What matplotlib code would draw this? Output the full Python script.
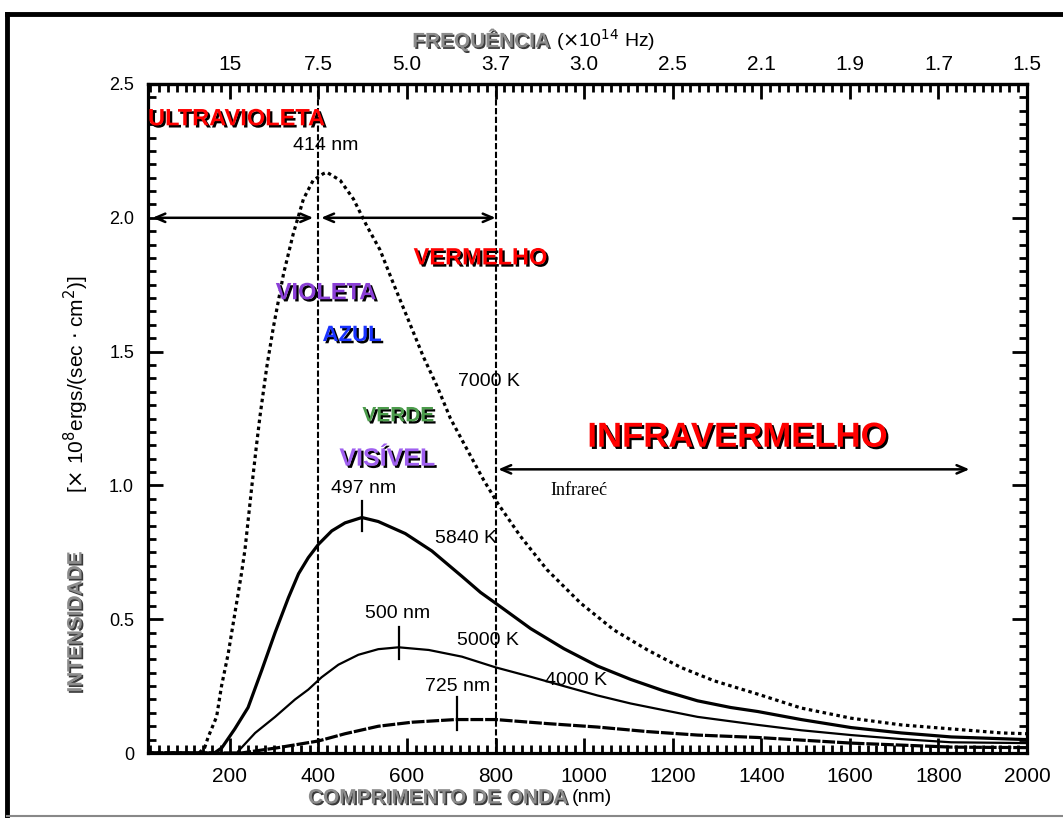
import matplotlib
matplotlib.use("Agg")
import matplotlib.pyplot as plt
import matplotlib.patheffects as pe
from matplotlib.lines import Line2D
from matplotlib.ticker import MultipleLocator

# curves (wavelength nm, intensity x10^8 ergs/(sec cm^2))
wave_7000 = [20, 130, 143, 151, 170, 181, 196, 211, 226, 234, 249, 260, 268, 283, 298, 321,
             343, 366, 388, 411, 419, 449, 479, 509, 539, 569, 600, 637, 668, 698, 750, 773,
             804, 856, 916, 992, 1067, 1143, 1218, 1293, 1392, 1490, 1603, 1716, 1829, 1942, 2000]
int_7000 = [0, 0, 0.02, 0.06, 0.136, 0.25, 0.37, 0.52, 0.67, 0.76, 0.99, 1.15, 1.26, 1.44, 1.59, 1.79,
            1.94, 2.07, 2.14, 2.165, 2.17, 2.14, 2.07, 1.97, 1.88, 1.755, 1.63, 1.48, 1.37, 1.25, 1.09, 1.02,
            0.935, 0.81, 0.685, 0.56, 0.46, 0.385, 0.32, 0.27, 0.22, 0.168, 0.13, 0.105, 0.09, 0.075, 0.072]

wave_5840 = [20, 165, 182, 211, 241, 272, 302, 332, 355, 377, 400, 430, 460, 498, 535, 596, 656,
             724, 766, 804, 879, 954, 1030, 1105, 1180, 1256, 1331, 1392, 1490, 1603, 1716, 1829, 2000]
int_5840 = [0, 0, 0.02, 0.09, 0.17, 0.31, 0.45, 0.58, 0.67, 0.73, 0.78, 0.83, 0.86, 0.88, 0.865, 0.82, 0.755,
            0.66, 0.60, 0.555, 0.465, 0.39, 0.325, 0.275, 0.232, 0.195, 0.17, 0.155, 0.125, 0.095, 0.075, 0.06, 0.05]

wave_5000 = [20, 215, 257, 302, 347, 377, 407, 445, 490, 535, 581, 649, 724, 800, 879, 954, 1030,
             1105, 1180, 1256, 1392, 1490, 1603, 1716, 1829, 2000]
int_5000 = [0, 0, 0.075, 0.135, 0.2, 0.237, 0.283, 0.33, 0.367, 0.388, 0.395, 0.385, 0.36, 0.32, 0.285, 0.25, 0.215,
            0.185, 0.16, 0.135, 0.105, 0.085, 0.067, 0.052, 0.04, 0.037]

wave_4000 = [20, 226, 309, 400, 460, 535, 611, 709, 800, 916, 1030, 1143, 1256, 1392, 1603, 1829, 2000]
int_4000 = [0, 0, 0.02, 0.045, 0.072, 0.1, 0.115, 0.125, 0.125, 0.11, 0.097, 0.08, 0.067, 0.058, 0.037, 0.022, 0.02]

# short marks at the peaks
peak_nm = [498, 581, 713]
peak_lo = [0.83, 0.35, 0.086]
peak_hi = [0.94, 0.47, 0.21]

# axes
x_ticks = [200, 400, 600, 800, 1000, 1200, 1400, 1600, 1800, 2000]
x_labels = ["200", "400", "600", "800", "1000", "1200", "1400", "1600", "1800", "2000"]
freq_labels = ["15", "7.5", "5.0", "3.7", "3.0", "2.5", "2.1", "1.9", "1.7", "1.5"]
y_ticks = [0, 0.5, 1.0, 1.5, 2.0, 2.5]
y_labels = ["0", "0.5", "1.0", "1.5", "2.0", "2.5"]

# region boundaries
region_lines = [400, 800]

# plain annotations: text, x, y
notes = [("414 nm", 417, 2.27), ("7000 K", 786, 1.39), ("497 nm", 501, 0.99),
         ("5840 K", 732, 0.80), ("500 nm", 578, 0.52), ("5000 K", 782, 0.42),
         ("725 nm", 714, 0.25), ("4000 K", 981, 0.27)]

# coloured band names: text, x, y, colour, size
bands = [("ULTRAVIOLETA", 15, 2.37, "#ff0000", 17, "left"),
         ("VERMELHO", 766, 1.85, "#ff0000", 17, "center"),
         ("VIOLETA", 417, 1.72, "#8a3fd6", 17, "center"),
         ("AZUL", 476, 1.56, "#1a33ff", 16, "center"),
         ("VERDE", 580, 1.26, "#4c9c4c", 15, "center"),
         ("VISÍVEL", 555, 1.10, "#a060f0", 18, "center"),
         ("INFRAVERMELHO", 1347, 1.18, "#ff0000", 25, "center")]

plt.rcParams["font.family"] = ["Liberation Sans", "DejaVu Sans"]

fig = plt.figure(figsize=(10.63, 8.18), dpi=100)
ax = fig.add_axes([148 / 1063, 1 - 753 / 818, 879 / 1063, 669 / 818])

ax.plot(wave_7000, int_7000, color="black", lw=2.3, linestyle=(0, (1.1, 1.1)))
ax.plot(wave_5840, int_5840, color="black", lw=2.3)
ax.plot(wave_5000, int_5000, color="black", lw=1.6)
ax.plot(wave_4000, int_4000, color="black", lw=2.3, linestyle=(0, (4, 0.6)))
for xp, lo, hi in zip(peak_nm, peak_lo, peak_hi):
    ax.plot([xp, xp], [lo, hi], color="black", lw=1.6)

for xv in region_lines:
    ax.axvline(xv, color="black", lw=1.5, linestyle=(0, (3, 1.2)))

arrow = dict(arrowstyle="<->,head_length=0.7,head_width=0.3", color="black", lw=1.8,
             shrinkA=0, shrinkB=0)
ax.annotate("", xy=(25, 2.0), xytext=(388, 2.0), arrowprops=arrow)
ax.annotate("", xy=(406, 2.0), xytext=(800, 2.0), arrowprops=arrow)
ax.annotate("", xy=(806, 1.06), xytext=(1870, 1.06), arrowprops=arrow)

for txt, xv, yv in notes:
    ax.text(xv, yv, txt, ha="center", va="center", fontsize=14, color="black")

for txt, xv, yv, col, fs, ha in bands:
    ax.text(xv, yv, txt, ha=ha, va="center", fontsize=fs, fontweight="bold", color=col,
            path_effects=[pe.withSimplePatchShadow(offset=(1.6, -1.6), shadow_rgbFace="black", alpha=1.0)])

ax.text(988, 0.98, "Infrareć", ha="center", va="center", fontsize=13,
        family=["Liberation Serif", "DejaVu Serif"])

ax.set_xlim(15, 2000)
ax.set_ylim(0, 2.5)
ax.set_xticks(x_ticks, labels=x_labels, fontsize=15)
ax.set_yticks(y_ticks, labels=y_labels, fontsize=13)
ax.xaxis.set_minor_locator(MultipleLocator(20))
ax.yaxis.set_minor_locator(MultipleLocator(0.05))
ax.tick_params(which="major", direction="in", length=11, width=2, right=True, pad=10)
ax.tick_params(which="minor", direction="in", length=6, width=2, right=True)
for sp in ax.spines.values():
    sp.set_linewidth(2.3)

top = ax.secondary_xaxis("top")
top.set_xticks(x_ticks, labels=freq_labels, fontsize=15)
top.xaxis.set_minor_locator(MultipleLocator(20))
top.tick_params(which="major", direction="in", length=11, width=2, pad=7)
top.tick_params(which="minor", direction="in", length=6, width=2)
top.spines["top"].set_linewidth(2.3)

# axis titles: grey bold part plus plain part
grey = dict(fontsize=15, fontweight="bold", color="#8c8c8c",
            path_effects=[pe.withSimplePatchShadow(offset=(1.2, -1.2), shadow_rgbFace="#3a3a3a", alpha=1.0)])
fig.text(568 / 1063, 1 - 798 / 818, "COMPRIMENTO DE ONDA", ha="right", va="center", **grey)
fig.text(572 / 1063, 1 - 798 / 818, "(nm)", ha="left", va="center", fontsize=14)
fig.text(550 / 1063, 1 - 40 / 818, "FREQUÊNCIA", ha="right", va="center", **grey)
fig.text(556 / 1063, 1 - 40 / 818, r"($\times$10$^{14}$ Hz)", ha="left", va="center", fontsize=14)
fig.text(76 / 1063, 1 - 622 / 818, "INTENSIDADE", ha="center", va="center", rotation=90, **grey)
fig.text(76 / 1063, 1 - 384 / 818, r"[$\times$ 10$^8$ergs/(sec $\cdot$ cm$^2$)]", ha="center", va="center",
         rotation=90, fontsize=15)

# outer frame of the original picture
fig.add_artist(Line2D([7 / 1063, 7 / 1063], [0, 1 - 14 / 818], transform=fig.transFigure, color="black", lw=3.5))
fig.add_artist(Line2D([7 / 1063, 1], [1 - 14 / 818, 1 - 14 / 818], transform=fig.transFigure, color="black", lw=3.5))
fig.add_artist(Line2D([7 / 1063, 1], [2 / 818, 2 / 818], transform=fig.transFigure, color="#888888", lw=1.5))

fig.savefig("out.png", dpi=100)
